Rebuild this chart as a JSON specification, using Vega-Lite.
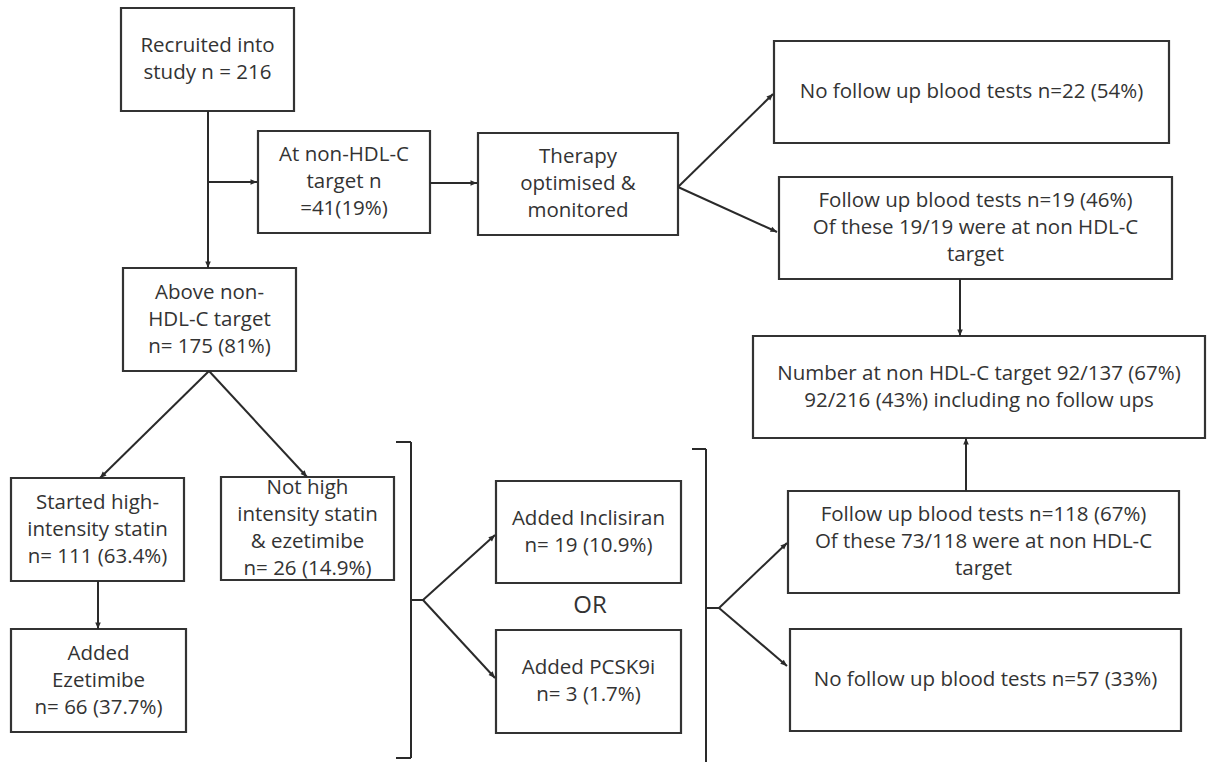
{
  "$schema": "https://vega.github.io/schema/vega-lite/v6.json",
  "width": 1208,
  "height": 762,
  "autosize": {"type": "none"},
  "padding": 0,
  "background": "#ffffff",
  "config": {"view": {"stroke": null}},
  "datasets": {
    "boxes": [
      {"id": "recruited", "x": 121, "x2": 294, "y": 8, "y2": 111, "label": "Recruited into\nstudy n = 216"},
      {"id": "at", "x": 258, "x2": 430, "y": 131, "y2": 233, "label": "At non-HDL-C\ntarget n\n=41(19%)"},
      {"id": "therapy", "x": 478, "x2": 678, "y": 133, "y2": 235, "label": "Therapy\noptimised &\nmonitored"},
      {"id": "nofu22", "x": 774, "x2": 1169, "y": 41, "y2": 143, "label": "No follow up blood tests n=22 (54%)"},
      {"id": "fu19", "x": 779, "x2": 1172, "y": 177, "y2": 279, "label": "Follow up blood tests n=19 (46%)\nOf these 19/19 were at non HDL-C\ntarget"},
      {"id": "number", "x": 753, "x2": 1205, "y": 336, "y2": 438, "label": "Number at non HDL-C target 92/137 (67%)\n92/216 (43%) including no follow ups"},
      {"id": "fu118", "x": 788, "x2": 1179, "y": 491, "y2": 593, "label": "Follow up blood tests n=118 (67%)\nOf these 73/118 were at non HDL-C\ntarget"},
      {"id": "nofu57", "x": 790, "x2": 1181, "y": 629, "y2": 731, "label": "No follow up blood tests n=57 (33%)"},
      {"id": "above", "x": 123, "x2": 296, "y": 268, "y2": 371, "label": "Above non-\nHDL-C target\nn= 175 (81%)"},
      {"id": "started", "x": 11, "x2": 184, "y": 478, "y2": 581, "label": "Started high-\nintensity statin\nn= 111 (63.4%)"},
      {"id": "nothigh", "x": 221, "x2": 394, "y": 477, "y2": 580, "label": "Not high\nintensity statin\n& ezetimibe\nn= 26 (14.9%)"},
      {"id": "ezetimibe", "x": 11, "x2": 186, "y": 629, "y2": 732, "label": "Added\nEzetimibe\nn= 66 (37.7%)"},
      {"id": "inclisiran", "x": 496, "x2": 681, "y": 481, "y2": 583, "label": "Added Inclisiran\nn= 19 (10.9%)"},
      {"id": "pcsk9i", "x": 496, "x2": 681, "y": 630, "y2": 733, "label": "Added PCSK9i\nn= 3 (1.7%)"}
    ],
    "segs": [
      {"x": 208, "y": 111, "x2": 208, "y2": 268, "arrow": true},
      {"x": 208, "y": 182, "x2": 257, "y2": 182, "arrow": true},
      {"x": 430, "y": 183, "x2": 477, "y2": 183, "arrow": true},
      {"x": 678, "y": 187, "x2": 773, "y2": 94, "arrow": true},
      {"x": 678, "y": 187, "x2": 777, "y2": 232, "arrow": true},
      {"x": 960, "y": 279, "x2": 960, "y2": 336, "arrow": true},
      {"x": 966, "y": 491, "x2": 966, "y2": 438, "arrow": true},
      {"x": 209, "y": 371, "x2": 100, "y2": 478, "arrow": true},
      {"x": 209, "y": 371, "x2": 307, "y2": 477, "arrow": true},
      {"x": 98, "y": 581, "x2": 98, "y2": 629, "arrow": true},
      {"x": 411, "y": 442, "x2": 411, "y2": 758, "arrow": false},
      {"x": 396, "y": 442, "x2": 411, "y2": 442, "arrow": false},
      {"x": 396, "y": 758, "x2": 411, "y2": 758, "arrow": false},
      {"x": 411, "y": 600, "x2": 423, "y2": 600, "arrow": false},
      {"x": 423, "y": 600, "x2": 495, "y2": 535, "arrow": true},
      {"x": 423, "y": 600, "x2": 495, "y2": 678, "arrow": true},
      {"x": 706, "y": 449, "x2": 706, "y2": 762, "arrow": false},
      {"x": 692, "y": 449, "x2": 706, "y2": 449, "arrow": false},
      {"x": 706, "y": 608, "x2": 719, "y2": 608, "arrow": false},
      {"x": 719, "y": 608, "x2": 787, "y2": 543, "arrow": true},
      {"x": 719, "y": 608, "x2": 787, "y2": 666, "arrow": true}
    ],
    "notes": [
      {"x": 590, "y": 606, "label": "OR"}
    ]
  },
  "layer": [
    {
      "data": {"name": "boxes"},
      "mark": {"type": "rect", "fill": "#ffffff", "stroke": "#333333", "strokeWidth": 2.2},
      "encoding": {
        "x": {"field": "x", "type": "quantitative", "scale": {"domain": [0, 1208], "nice": false, "zero": false}, "axis": null},
        "x2": {"field": "x2"},
        "y": {"field": "y", "type": "quantitative", "scale": {"domain": [0, 762], "nice": false, "zero": false, "reverse": true}, "axis": null},
        "y2": {"field": "y2"}
      }
    },
    {
      "data": {"name": "segs"},
      "mark": {"type": "rule", "stroke": "#2a2a2a", "strokeWidth": 2},
      "encoding": {
        "x": {"field": "x", "type": "quantitative"},
        "x2": {"field": "x2"},
        "y": {"field": "y", "type": "quantitative"},
        "y2": {"field": "y2"}
      }
    },
    {
      "data": {"name": "segs"},
      "transform": [
        {"filter": "datum.arrow"},
        {"calculate": "atan2(datum.x2 - datum.x, datum.y - datum.y2) * 180 / PI", "as": "ang"}
      ],
      "mark": {"type": "point", "shape": "M0,0L-0.55,1.3L0.55,1.3Z", "filled": true, "fill": "#2a2a2a", "strokeWidth": 0, "opacity": 1, "size": 100},
      "encoding": {
        "x": {"field": "x2", "type": "quantitative"},
        "y": {"field": "y2", "type": "quantitative"},
        "angle": {"field": "ang", "type": "quantitative", "scale": null}
      }
    },
    {
      "data": {"name": "boxes"},
      "transform": [
        {"calculate": "(datum.x + datum.x2) / 2", "as": "cx"},
        {"calculate": "(datum.y + datum.y2) / 2 - (length(split(datum.label, '\\n')) - 1) * 13.5", "as": "cy"}
      ],
      "mark": {"type": "text", "font": "Open Sans", "fontSize": 20.5, "color": "#333333", "align": "center", "baseline": "middle", "lineBreak": "\n", "lineHeight": 27},
      "encoding": {
        "x": {"field": "cx", "type": "quantitative"},
        "y": {"field": "cy", "type": "quantitative"},
        "text": {"field": "label", "type": "nominal"}
      }
    },
    {
      "data": {"name": "notes"},
      "mark": {"type": "text", "font": "Open Sans", "fontSize": 24, "color": "#333333", "align": "center", "baseline": "middle"},
      "encoding": {
        "x": {"field": "x", "type": "quantitative"},
        "y": {"field": "y", "type": "quantitative"},
        "text": {"field": "label", "type": "nominal"}
      }
    }
  ]
}
